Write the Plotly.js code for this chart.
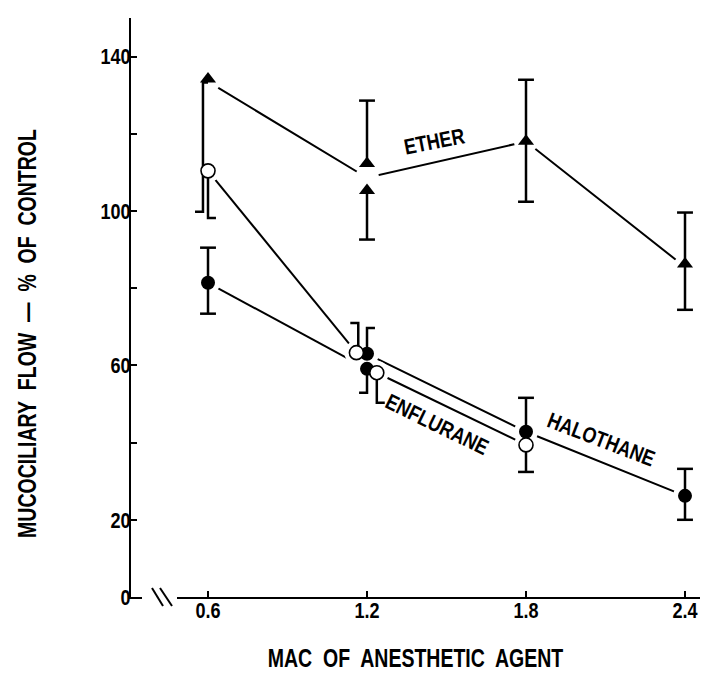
<!DOCTYPE html>
<html><head><meta charset="utf-8">
<script src="https://cdn.plot.ly/plotly-3.0.1.min.js"></script>
<style>
html,body{margin:0;padding:0;background:#fff;}
#chart{width:702px;height:688px;}
</style></head><body><div id="chart"></div>
<script>
const FONT = '"Liberation Sans", Arial, sans-serif';
const SQUEEZE = 0.82;       // emulate a condensed bold face
const SQUEEZE_TITLE = 0.78;

// tick labels
const xTickVals = [0.6, 1.2, 1.8, 2.4];
const xTickText = ['0.6', '1.2', '1.8', '2.4'];
const yTickVals = [0, 20, 40, 60, 80, 100, 120, 140, 150];
const yTickText = ['0', '20', '', '60', '', '100', '', '140', ''];

// ETHER (filled triangles)
const etherX = [0.6, 1.2, 1.2, 1.8, 2.4];
const etherY = [134.2, 112.3, 105.3, 118.1, 86.3];
const etherLineX = [0.6, 1.2, 1.8, 2.4];
const etherLineY = [133.5, 108.6, 118.0, 85.5];
const etherBarFromX = [0.6, 1.2, 1.2, 1.8, 1.8, 2.4, 2.4];
const etherBarX = [0.581, 1.2, 1.2, 1.8, 1.8, 2.4, 2.4];
const etherBarBase = [133.3, 112.3, 105.3, 118.1, 118.1, 86.3, 86.3];
const etherBarEnd = [99.8, 128.6, 92.6, 134.0, 102.4, 99.6, 74.4];
const etherCap = [-1, 0, 0, 0, 0, 0, 0];

// HALOTHANE (filled circles)
const halX = [0.6, 1.2, 1.2, 1.8, 2.4];
const halY = [81.4, 63.0, 59.1, 42.8, 26.2];
const halLineX = [0.6, 1.2, null, 1.2, 1.8, 2.4];
const halLineY = [81.4, 59.1, null, 63.0, 42.8, 26.2];
const halBarX = [0.6, 0.6, 1.2, 1.2, 1.8, 2.4, 2.4];
const halBarBase = [81.4, 81.4, 63.0, 59.1, 42.8, 26.2, 26.2];
const halBarEnd = [90.5, 73.4, 69.7, 52.9, 51.6, 33.2, 20.0];
const halCap = [0, 0, 1, -1, 0, 0, 0];

// ENFLURANE (open circles)
const enfX = [0.6, 1.16, 1.237, 1.8];
const enfY = [110.4, 63.3, 58.1, 39.4];
const enfLineX = [0.6, 1.16, null, 1.237, 1.8];
const enfLineY = [110.4, 63.3, null, 58.1, 39.4];
const enfBarX = [0.6, 1.167, 1.237, 1.8];
const enfBarBase = [110.4, 63.3, 58.1, 39.4];
const enfBarEnd = [98.2, 71.0, 50.3, 32.4];
const enfCap = [1, -1, 1, 0];

const CAP = 0.03; // half cap width in x units (~8px)

function bars(fromX, barX, base, end, cap) {
  const xs = [], ys = [];
  for (let i = 0; i < barX.length; i++) {
    if (fromX[i] !== barX[i]) { xs.push(fromX[i]); ys.push(base[i]); }
    xs.push(barX[i], barX[i]); ys.push(base[i], end[i]);
    if (cap[i] === 0) {
      xs.push(null, barX[i] - CAP, barX[i] + CAP); ys.push(null, end[i], end[i]);
    } else {
      xs.push(barX[i] + cap[i] * CAP); ys.push(end[i]);
    }
    xs.push(null); ys.push(null);
  }
  return {x: xs, y: ys, type: 'scatter', mode: 'lines', line: {color: 'black', width: 2.5}, hoverinfo: 'skip', connectgaps: false};
}
function lineTrace(x, y) {
  return {x, y, type: 'scatter', mode: 'lines', line: {color: 'black', width: 2}, connectgaps: false, hoverinfo: 'skip'};
}
function halo(x, y) {
  return {x, y, type: 'scatter', mode: 'markers', marker: {symbol: 'circle', size: 24, color: 'white'}, hoverinfo: 'skip'};
}

const data = [
  lineTrace(etherLineX, etherLineY),
  lineTrace(halLineX, halLineY),
  lineTrace(enfLineX, enfLineY),
  halo(etherLineX, etherLineY),
  halo(halLineX, halLineY),
  halo(enfLineX, enfLineY),
  bars(etherBarFromX, etherBarX, etherBarBase, etherBarEnd, etherCap),
  bars(halBarX, halBarX, halBarBase, halBarEnd, halCap),
  bars(enfBarX, enfBarX, enfBarBase, enfBarEnd, enfCap),
  {x: etherX, y: etherY, name: 'ETHER', type: 'scatter', mode: 'markers', marker: {symbol: 'triangle-up', size: 14, color: 'black'}},
  {x: halX, y: halY, name: 'HALOTHANE', type: 'scatter', mode: 'markers', marker: {symbol: 'circle', size: 14, color: 'black'}},
  {x: enfX, y: enfY, name: 'ENFLURANE', type: 'scatter', mode: 'markers', marker: {symbol: 'circle', size: 14, color: 'white', line: {color: 'black', width: 1.6}}}
];

const tf = {family: FONT, size: 22, weight: 700, color: 'black'};
const af = {family: FONT, size: 22, weight: 700, color: 'black'};
const titleFont = {family: FONT, size: 25, weight: 700, color: 'black'};
const W = 702, H = 688, L = 131, R = 2, T = 18, B = 91;
const pw = W - L - R, ph = H - T - B;
const px = v => (v - L) / pw, py = v => (H - B - v) / ph;

const layout = {
  width: W, height: H,
  margin: {l: L, r: R, t: T, b: B},
  paper_bgcolor: 'white', plot_bgcolor: 'white',
  showlegend: false,
  xaxis: {
    range: [0.3094, 2.4566], tickvals: xTickVals, ticktext: xTickText,
    ticks: 'inside', ticklen: 6, tickwidth: 2, tickcolor: 'black',
    showline: true, linewidth: 2, linecolor: 'black', showgrid: false, zeroline: false,
    tickfont: tf, ticklabeloverflow: 'allow', ticklabelstandoff: -7,
    title: {text: 'MAC\u00a0 OF\u00a0 ANESTHETIC\u00a0 AGENT', font: titleFont, standoff: 27}
  },
  yaxis: {
    range: [0, 150], tickvals: yTickVals, ticktext: yTickText,
    ticks: 'inside', ticklen: 6, tickwidth: 2, tickcolor: 'black',
    showline: true, linewidth: 2, linecolor: 'black', showgrid: false, zeroline: false,
    tickfont: tf, ticklabeloverflow: 'allow', ticklabelstandoff: -6,
    title: {text: 'MUCOCILIARY\u00a0 FLOW\u00a0 \u2014\u00a0 %\u00a0 OF\u00a0 CONTROL', font: titleFont, standoff: 50}
  },
  shapes: [
    {type: 'rect', xref: 'paper', yref: 'paper', x0: px(142), x1: px(177), y0: py(604), y1: py(590), fillcolor: 'white', line: {width: 0}, layer: 'above'},
    {type: 'line', xref: 'paper', yref: 'paper', x0: px(152), y0: py(588), x1: px(163), y1: py(606), line: {color: 'black', width: 2}},
    {type: 'line', xref: 'paper', yref: 'paper', x0: px(160), y0: py(588), x1: px(172), y1: py(606), line: {color: 'black', width: 2}}
  ],
  annotations: [
    {x: 1.453, y: 118, xref: 'x', yref: 'y', text: 'ETHER', showarrow: false, textangle: -11, font: af},
    {x: 1.464, y: 44.6, xref: 'x', yref: 'y', text: 'ENFLURANE', showarrow: false, textangle: 26, font: af},
    {x: 2.083, y: 40.7, xref: 'x', yref: 'y', text: 'HALOTHANE', showarrow: false, textangle: 21, font: af}
  ]
};

Plotly.newPlot('chart', data, layout, {staticPlot: true, displayModeBar: false}).then(gd => {
  gd.querySelectorAll('text').forEach(t => {
    if (!t.textContent.trim()) return;
    const isTitle = t.classList.contains('xtitle') || t.classList.contains('ytitle');
    const f = isTitle ? SQUEEZE_TITLE : SQUEEZE;
    const b0 = t.getBBox();
    const w = t.getComputedTextLength();
    t.setAttribute('textLength', (w * f).toFixed(1));
    t.setAttribute('lengthAdjust', 'spacingAndGlyphs');
    const b1 = t.getBBox();
    const anchor = getComputedStyle(t).textAnchor;
    let dx;
    if (anchor === 'end') dx = (b0.x + b0.width) - (b1.x + b1.width);
    else if (anchor === 'middle') dx = (b0.x + b0.width / 2) - (b1.x + b1.width / 2);
    else dx = b0.x - b1.x;
    if (t.classList.contains('ytitle')) dx -= 26; // title sits lower than the plot centre
    if (Math.abs(dx) > 0.05) t.setAttribute('x', (parseFloat(t.getAttribute('x') || 0) + dx).toFixed(2));
  });
});
</script></body></html>
